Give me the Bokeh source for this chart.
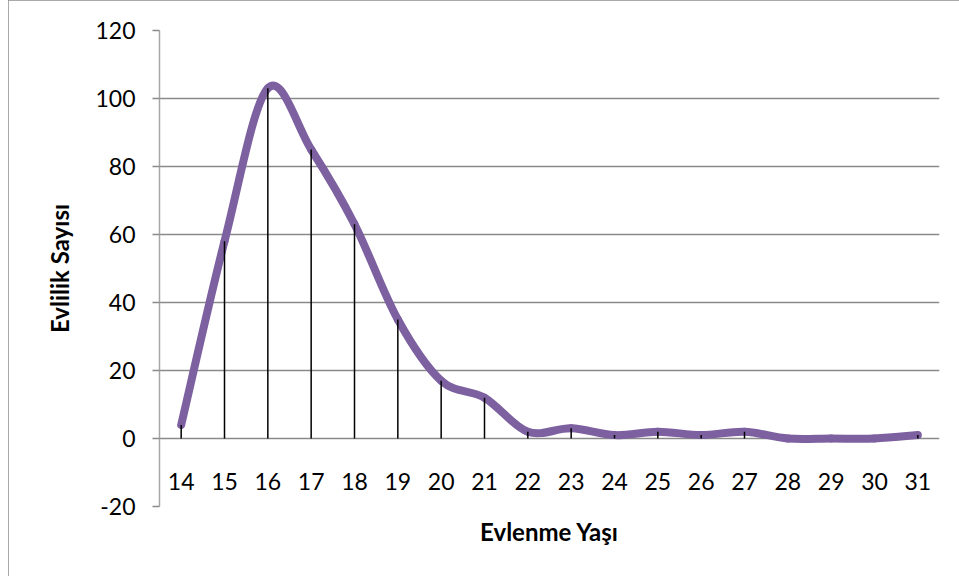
from bokeh.plotting import figure
from bokeh.models import Range1d, FixedTicker
from bokeh.core.properties import value
from bokeh.embed import file_html
from bokeh.resources import INLINE

# ---- data ----
ages = [14, 15, 16, 17, 18, 19, 20, 21, 22, 23, 24, 25, 26, 27, 28, 29, 30, 31]
age_labels = ["14", "15", "16", "17", "18", "19", "20", "21", "22", "23",
              "24", "25", "26", "27", "28", "29", "30", "31"]
counts = [4, 58, 103, 85, 63, 35, 17, 12, 2, 3, 1, 2, 1, 2, 0, 0, 0, 1]
y_ticks = [-20, 0, 20, 40, 60, 80, 100, 120]
y_tick_labels = ["-20", "0", "20", "40", "60", "80", "100", "120"]
x_title = "Evlenme Yaşı"
y_title = "Evlilik Sayısı"

FONT = "Lato"
GRID = "#8a8a8a"
PURPLE = "#7d60a0"

p = figure(width=951, height=576, output_backend="svg", toolbar_location=None,
           x_range=Range1d(ages[0] - 0.5, ages[-1] + 0.5),
           y_range=Range1d(y_ticks[0], y_ticks[-1]),
           min_border_left=151, min_border_right=20,
           min_border_top=30, min_border_bottom=70)
p.outline_line_color = None
p.background_fill_color = "white"
p.border_fill_color = "white"
p.styles = {"margin-left": "8px", "outline": "1px solid #8c8c8c",
            "outline-offset": "-1px"}

# grid
p.xgrid.visible = False
p.ygrid.ticker = FixedTicker(ticks=y_ticks)
p.ygrid.grid_line_color = GRID
p.ygrid.grid_line_width = 1.5

# y axis
ya = p.yaxis[0]
ya.ticker = FixedTicker(ticks=y_ticks)
ya.major_label_overrides = dict(zip(y_ticks, y_tick_labels))
ya.axis_line_color = "#a6a6a6"
ya.axis_line_width = 1.5
ya.major_tick_line_color = GRID
ya.major_tick_line_width = 1.5
ya.major_tick_in = 0
ya.major_tick_out = 7
ya.minor_tick_line_color = None
ya.major_label_standoff = 17
ya.major_label_text_font = FONT
ya.major_label_text_font_size = "23px"
ya.major_label_text_color = "black"
ya.axis_label = y_title
ya.axis_label_text_font = FONT
ya.axis_label_text_font_style = "bold"
ya.axis_label_text_font_size = "24px"
ya.axis_label_text_color = "black"
ya.axis_label_standoff = 18

# x axis (only the title; category labels drawn inside the plot)
xa = p.xaxis[0]
xa.ticker = FixedTicker(ticks=[])
xa.axis_line_color = None
xa.major_tick_line_color = None
xa.minor_tick_line_color = None
xa.axis_label = x_title
xa.axis_label_text_font = FONT
xa.axis_label_text_font_style = "bold"
xa.axis_label_text_font_size = "24px"
xa.axis_label_text_color = "black"
xa.axis_label_standoff = 10

# smoothed line (Catmull-Rom style bezier segments, like Excel's smoothing)
n = len(ages)
bx0, by0, bx1, by1, cx0, cy0, cx1, cy1 = [], [], [], [], [], [], [], []
for i in range(n - 1):
    a = i - 1 if i > 0 else i
    d = i + 2 if i + 2 < n else i + 1
    bx0.append(ages[i]); by0.append(counts[i])
    bx1.append(ages[i + 1]); by1.append(counts[i + 1])
    cx0.append(ages[i] + (ages[i + 1] - ages[a]) / 6)
    cy0.append(counts[i] + (counts[i + 1] - counts[a]) / 6)
    cx1.append(ages[i + 1] - (ages[d] - ages[i]) / 6)
    cy1.append(counts[i + 1] - (counts[d] - counts[i]) / 6)
p.bezier(x0=bx0, y0=by0, x1=bx1, y1=by1, cx0=cx0, cy0=cy0, cx1=cx1, cy1=cy1,
         line_color=PURPLE, line_width=8, line_cap="round")

# drop lines
p.segment(x0=ages, y0=[0] * n, x1=ages, y1=counts, line_color="black", line_width=1.5)

# category labels (inside plot, between 0 and -20)
p.text(x=ages, y=[-12.6] * n, text=age_labels, text_align="center",
       text_baseline="alphabetic", text_font=value(FONT), text_font_size="23px",
       text_color="black")

open("out.html", "w").write(file_html(p, INLINE))
